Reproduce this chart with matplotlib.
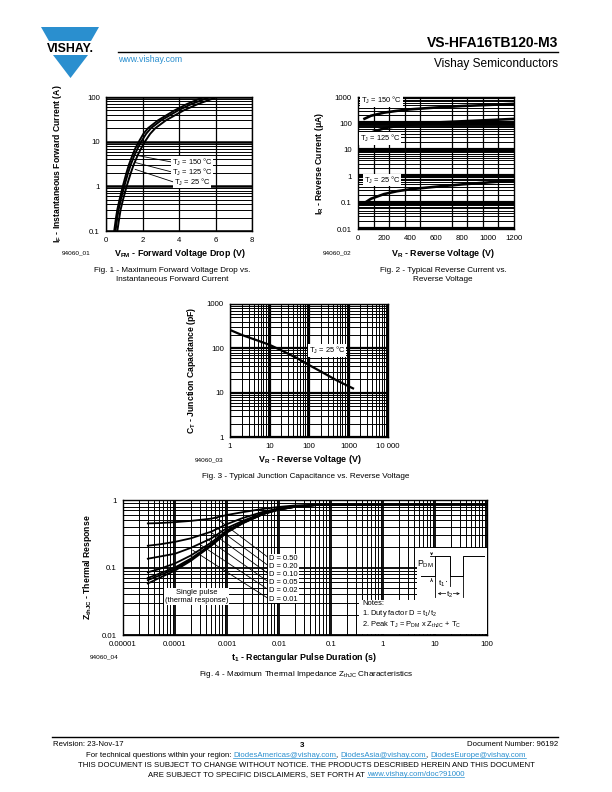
import numpy as np
import matplotlib
matplotlib.use('Agg')
import matplotlib.pyplot as plt
from matplotlib.patches import Polygon, Rectangle
from matplotlib.ticker import LogLocator, NullFormatter, MultipleLocator

plt.rcParams.update({
    'font.family': ['Liberation Sans', 'DejaVu Sans'],
    'mathtext.default': 'regular',
    'axes.linewidth': 1.0,
    'axes.edgecolor': 'black',
})

W, H = 612, 792
BLUE = '#2a8fcf'

# ---------------- Fig. 1 : IF vs VFM ----------------
f1_if = [0.1, 0.2, 0.3, 0.5, 1, 2, 3, 5, 7, 10, 15, 20, 30, 50, 70, 100]
f1_vf_a = [0.45, 0.55, 0.62, 0.74, 0.92, 1.12, 1.25, 1.45, 1.60, 1.80, 2.05, 2.30, 2.85, 3.75, 4.45, 5.35]
f1_vf_b = [0.52, 0.62, 0.69, 0.81, 1.00, 1.21, 1.35, 1.56, 1.73, 1.93, 2.20, 2.46, 3.02, 3.95, 4.70, 5.70]
f1_vf_c = [0.62, 0.73, 0.80, 0.93, 1.13, 1.36, 1.51, 1.74, 1.92, 2.13, 2.42, 2.70, 3.28, 4.25, 5.05, 6.10]
f1_xticks = [0, 2, 4, 6, 8]
f1_yticks = [0.1, 1, 10, 100]
f1_yticklabels = ['0.1', '1', '10', '100']
f1_labels = ['T$_J$ = 150 °C', 'T$_J$ = 125 °C', 'T$_J$ = 25 °C']

# ---------------- Fig. 2 : IR vs VR ----------------
f2_vr_150 = [50, 100, 200, 300, 400, 600, 800, 1000, 1200]
f2_ir_150 = [150, 195, 255, 300, 340, 400, 455, 500, 550]
f2_vr_125 = [40, 100, 200, 300, 400, 600, 800, 1000, 1200]
f2_ir_125 = [30, 45, 65, 80, 90, 108, 120, 133, 148]
f2_vr_25 = [40, 100, 200, 300, 400, 600, 800, 1000, 1200]
f2_ir_25 = [0.09, 0.14, 0.21, 0.27, 0.32, 0.40, 0.49, 0.58, 0.68]
f2_xticks = [0, 200, 400, 600, 800, 1000, 1200]
f2_yticks = [0.01, 0.1, 1, 10, 100, 1000]
f2_yticklabels = ['0.01', '0.1', '1', '10', '100', '1000']
f2_labels = ['T$_J$ = 150 °C', 'T$_J$ = 125 °C', 'T$_J$ = 25 °C']

# ---------------- Fig. 3 : CT vs VR ----------------
f3_vr = [1, 2, 5, 10, 20, 50, 100, 200, 500, 1000, 1300]
f3_ct = [260, 200, 150, 120, 90, 60, 42, 30, 19, 14, 12.5]
f3_xticks = [1, 10, 100, 1000, 10000]
f3_xticklabels = ['1', '10', '100', '1000', '10 000']
f3_yticks = [1, 10, 100, 1000]
f3_yticklabels = ['1', '10', '100', '1000']

# ---------------- Fig. 4 : ZthJC vs t1 ----------------
f4_t = [3e-5, 5e-5, 1e-4, 2e-4, 5e-4, 1e-3, 2e-3, 5e-3, 1e-2, 2e-2, 5e-2, 1e-1, 1, 10, 100]
f4_z = {
    'D = 0.50': [0.45, 0.455, 0.47, 0.49, 0.53, 0.60, 0.66, 0.74, 0.79, 0.83, 0.85, 0.855, 0.86, 0.86, 0.86],
    'D = 0.20': [0.21, 0.22, 0.24, 0.27, 0.34, 0.44, 0.54, 0.67, 0.75, 0.81, 0.845, 0.85, 0.86, 0.86, 0.86],
    'D = 0.10': [0.135, 0.145, 0.16, 0.195, 0.27, 0.385, 0.49, 0.645, 0.735, 0.80, 0.84, 0.85, 0.86, 0.86, 0.86],
    'D = 0.05': [0.085, 0.095, 0.115, 0.15, 0.235, 0.355, 0.47, 0.63, 0.73, 0.795, 0.84, 0.85, 0.86, 0.86, 0.86],
    'D = 0.02': [0.07, 0.081, 0.10, 0.135, 0.22, 0.34, 0.46, 0.625, 0.725, 0.79, 0.84, 0.85, 0.86, 0.86, 0.86],
    'D = 0.01': [0.065, 0.076, 0.095, 0.13, 0.215, 0.335, 0.455, 0.62, 0.72, 0.79, 0.84, 0.85, 0.86, 0.86, 0.86],
}
f4_single = [0.058, 0.07, 0.09, 0.125, 0.21, 0.33, 0.45, 0.62, 0.72, 0.79, 0.84, 0.85, 0.86, 0.86, 0.86]
f4_xticks = [1e-5, 1e-4, 1e-3, 1e-2, 1e-1, 1, 10, 100]
f4_xticklabels = ['0.00001', '0.0001', '0.001', '0.01', '0.1', '1', '10', '100']
f4_yticks = [0.01, 0.1, 1]
f4_yticklabels = ['0.01', '0.1', '1']


def chart_axes(fig, left, top, right, bottom):
    return fig.add_axes([left / W, 1 - bottom / H, (right - left) / W, (bottom - top) / H])


def log_grid(ax, axis, major_lw, minor_lw):
    target = ax.yaxis if axis == 'y' else ax.xaxis
    target.set_minor_locator(LogLocator(base=10, subs=np.arange(2, 10), numticks=60))
    target.set_minor_formatter(NullFormatter())
    ax.grid(True, which='minor', axis=axis, color='black', lw=minor_lw)
    ax.grid(True, which='major', axis=axis, color='black', lw=major_lw)


def base_style(ax):
    ax.tick_params(which='both', length=0, labelsize=5.6, pad=4.5)
    for s in ax.spines.values():
        s.set_linewidth(1.0)


def boxed(ax, x, y, s, **kw):
    ax.text(x, y, s, fontsize=5.4, va='center', zorder=6,
            bbox=dict(fc='white', ec='none', pad=0.6), **kw)


fig = plt.figure(figsize=(W / 100, H / 100), dpi=100)
page = fig.add_axes([0, 0, 1, 1])
page.set_xlim(0, W)
page.set_ylim(H, 0)
page.axis('off')

# ---------- header ----------
page.add_patch(Polygon([(41, 27), (99, 27), (91, 41), (49, 41)], closed=True, fc=BLUE, ec='none'))
page.add_patch(Polygon([(53, 55), (88, 55), (70.5, 78)], closed=True, fc=BLUE, ec='none'))
page.text(70, 48.5, 'VISHAY.', fontsize=8.8, fontweight='bold', ha='center', va='center')
page.plot([118, 558], [52, 52], color='black', lw=1.0)
page.text(558, 47, 'VS-HFA16TB120-M3', fontsize=10, fontweight='bold', ha='right', va='baseline')
page.text(118, 62, 'www.vishay.com', fontsize=6.3, color=BLUE, ha='left', va='baseline')
page.text(558, 67, 'Vishay Semiconductors', fontsize=8.6, ha='right', va='baseline')

# ---------- Fig. 1 ----------
ax1 = chart_axes(fig, 106, 97, 252, 231)
ax1.set_yscale('log')
ax1.set_xlim(0, 8)
ax1.set_ylim(0.1, 100)
ax1.set_xticks(f1_xticks, labels=[str(v) for v in f1_xticks])
ax1.set_yticks(f1_yticks, labels=f1_yticklabels)
log_grid(ax1, 'y', 1.8, 0.7)
ax1.grid(True, which='major', axis='x', color='black', lw=0.9)
base_style(ax1)
for vf in (f1_vf_a, f1_vf_b, f1_vf_c):
    ax1.plot(vf, f1_if, color='black', lw=1.4, zorder=3)
f1_starts = [(1.62, 5.0), (1.62, 3.4), (1.6, 2.4)]
f1_ends = [(3.6, 3.5), (3.6, 2.1), (3.7, 1.25)]
for (x0, y0), (x1, y1), lab in zip(f1_starts, f1_ends, f1_labels):
    ax1.plot([x0, x1], [y0, y1], color='black', lw=0.6, zorder=4)
    boxed(ax1, x1, y1, lab)

page.text(58, 164, 'I$_F$ - Instantaneous Forward Current (A)', rotation=90, fontsize=6.2,
          fontweight='bold', ha='center', va='center')
page.text(180, 253, 'V$_{FM}$ - Forward Voltage Drop (V)', fontsize=6.4, fontweight='bold',
          ha='center', va='center')
page.text(62, 253, '94060_01', fontsize=4.6, ha='left', va='center')
page.text(172, 270, 'Fig. 1 - Maximum Forward Voltage Drop vs.', fontsize=5.9, ha='center', va='center')
page.text(172, 279.5, 'Instantaneous Forward Current', fontsize=5.9, ha='center', va='center')

# ---------- Fig. 2 ----------
ax2 = chart_axes(fig, 358, 97, 514, 229)
ax2.set_yscale('log')
ax2.set_xlim(0, 1200)
ax2.set_ylim(0.01, 1000)
ax2.set_xticks(f2_xticks, labels=[str(v) for v in f2_xticks])
ax2.set_yticks(f2_yticks, labels=f2_yticklabels)
log_grid(ax2, 'y', 3.0, 0.7)
ax2.xaxis.set_minor_locator(MultipleLocator(120))
ax2.grid(True, which='minor', axis='x', color='black', lw=0.9)
base_style(ax2)
ax2.plot(f2_vr_150, f2_ir_150, color='black', lw=1.9, zorder=3)
ax2.plot(f2_vr_125, f2_ir_125, color='black', lw=1.9, zorder=3)
ax2.plot(f2_vr_25, f2_ir_25, color='black', lw=1.9, zorder=3)
boxed(ax2, 25, 720, f2_labels[0])
boxed(ax2, 12, 26, f2_labels[1])
boxed(ax2, 45, 0.72, f2_labels[2])

page.text(319, 163, 'I$_R$ - Reverse Current (μA)', rotation=90, fontsize=6.2,
          fontweight='bold', ha='center', va='center')
page.text(443, 253, 'V$_R$ - Reverse Voltage (V)', fontsize=6.4, fontweight='bold',
          ha='center', va='center')
page.text(323, 253, '94060_02', fontsize=4.6, ha='left', va='center')
page.text(443, 270, 'Fig. 2 - Typical Reverse Current vs.', fontsize=5.9, ha='center', va='center')
page.text(443, 279.5, 'Reverse Voltage', fontsize=5.9, ha='center', va='center')

# ---------- Fig. 3 ----------
ax3 = chart_axes(fig, 230, 304, 388, 437)
ax3.set_xscale('log')
ax3.set_yscale('log')
ax3.set_xlim(1, 10000)
ax3.set_ylim(1, 1000)
ax3.set_xticks(f3_xticks, labels=f3_xticklabels)
ax3.set_yticks(f3_yticks, labels=f3_yticklabels)
log_grid(ax3, 'x', 1.6, 0.7)
log_grid(ax3, 'y', 1.6, 0.7)
base_style(ax3)
ax3.plot(f3_vr, f3_ct, color='black', lw=1.6, zorder=3)
boxed(ax3, 100, 88, 'T$_J$ = 25 °C')

page.text(192, 370, 'C$_T$ - Junction Capacitance (pF)', rotation=90, fontsize=6.2,
          fontweight='bold', ha='center', va='center')
page.text(310, 460, 'V$_R$ - Reverse Voltage (V)', fontsize=6.4, fontweight='bold',
          ha='center', va='center')
page.text(195, 460, '94060_03', fontsize=4.6, ha='left', va='center')
page.text(306, 476, 'Fig. 3 - Typical Junction Capacitance vs. Reverse Voltage', fontsize=5.9,
          ha='center', va='center')

# ---------- Fig. 4 ----------
ax4 = chart_axes(fig, 123, 500, 487, 635)
ax4.set_xscale('log')
ax4.set_yscale('log')
ax4.set_xlim(1e-5, 100)
ax4.set_ylim(0.01, 1)
ax4.set_xticks(f4_xticks, labels=f4_xticklabels)
ax4.set_yticks(f4_yticks, labels=f4_yticklabels)
log_grid(ax4, 'x', 1.3, 0.7)
log_grid(ax4, 'y', 1.3, 0.7)
base_style(ax4)
for lab, z in f4_z.items():
    ax4.plot(f4_t, z, color='black', lw=1.3, zorder=3)
ax4.plot(f4_t, f4_single, color='black', lw=1.3, zorder=3)

f4_label_y = [0.137, 0.104, 0.079, 0.06, 0.046, 0.034]
f4_starts = [(6e-4, 0.55), (6e-4, 0.40), (5e-4, 0.33), (4e-4, 0.27), (3e-4, 0.22), (2.2e-4, 0.18)]
for lab, ly, (sx, sy) in zip(f4_z.keys(), f4_label_y, f4_starts):
    ax4.plot([sx, 0.0065], [sy, ly], color='black', lw=0.6, zorder=4)
    boxed(ax4, 0.0065, ly, lab)

ax4.plot([8e-5, 8e-5], [0.05, 0.08], color='black', lw=0.6, zorder=4)
ax4.text(2.6e-4, 0.037, 'Single pulse\n(thermal response)', fontsize=5.4, ha='center', va='center',
         linespacing=1.15, zorder=6, bbox=dict(fc='white', ec='none', pad=0.8))

# pulse sketch and notes
ax4.add_patch(Rectangle((4.5, 0.033), 95.5, 0.16, fc='white', ec='none', zorder=5))
ax4.add_patch(Rectangle((0.35, 0.0103), 99.65, 0.0227, fc='white', ec='none', zorder=5))
ax4.plot([5.3, 10, 10, 19.4, 19.4, 34, 34, 88], [0.075, 0.075, 0.15, 0.15, 0.075, 0.075, 0.15, 0.15],
         color='black', lw=0.7, zorder=6)
ax4.plot([10, 10], [0.075, 0.036], color='black', lw=0.6, zorder=6)
ax4.plot([19.4, 19.4], [0.075, 0.053], color='black', lw=0.6, zorder=6)
ax4.plot([34, 34], [0.075, 0.036], color='black', lw=0.6, zorder=6)
ax4.annotate('', xy=(8.6, 0.15), xytext=(8.6, 0.18), zorder=6,
             arrowprops=dict(arrowstyle='->', lw=0.5, mutation_scale=4))
ax4.annotate('', xy=(8.6, 0.075), xytext=(8.6, 0.062), zorder=6,
             arrowprops=dict(arrowstyle='->', lw=0.5, mutation_scale=4))
ax4.plot([8.0, 10], [0.15, 0.15], color='black', lw=0.6, zorder=6)
ax4.text(9.4, 0.11, 'P$_{DM}$', fontsize=6.2, ha='right', va='center', zorder=7)
ax4.annotate('', xy=(10, 0.062), xytext=(19.4, 0.062), zorder=6,
             arrowprops=dict(arrowstyle='<->', lw=0.5, mutation_scale=4))
ax4.text(13.5, 0.058, 't$_1$', fontsize=6.0, ha='center', va='center', zorder=7,
         bbox=dict(fc='white', ec='none', pad=0.2))
ax4.annotate('', xy=(10, 0.041), xytext=(34, 0.041), zorder=6,
             arrowprops=dict(arrowstyle='<->', lw=0.5, mutation_scale=4))
ax4.text(19, 0.039, 't$_2$', fontsize=6.0, ha='center', va='center', zorder=7,
         bbox=dict(fc='white', ec='none', pad=0.2))
ax4.text(0.4, 0.0295, 'Notes:', fontsize=5.4, ha='left', va='center', zorder=7)
ax4.text(0.4, 0.0205, '1. Duty factor D = t$_1$/t$_2$', fontsize=5.4, ha='left', va='center', zorder=7)
ax4.text(0.4, 0.0143, '2. Peak T$_J$ = P$_{DM}$ x Z$_{thJC}$ + T$_C$', fontsize=5.4, ha='left',
         va='center', zorder=7)

page.text(88, 567, 'Z$_{thJC}$ - Thermal Response', rotation=90, fontsize=6.2,
          fontweight='bold', ha='center', va='center')
page.text(304, 657, 't$_1$ - Rectangular Pulse Duration (s)', fontsize=6.4, fontweight='bold',
          ha='center', va='center')
page.text(90, 657, '94060_04', fontsize=4.6, ha='left', va='center')
page.text(306, 674, 'Fig. 4 - Maximum Thermal Impedance Z$_{thJC}$ Characteristics', fontsize=5.9,
          ha='center', va='center')

# ---------- footer ----------
page.plot([52, 558], [737, 737], color='black', lw=1.0)
page.text(53, 746, 'Revision: 23-Nov-17', fontsize=5.6, ha='left', va='baseline')
page.text(302, 747, '3', fontsize=5.8, fontweight='bold', ha='center', va='baseline')
page.text(558, 746, 'Document Number: 96192', fontsize=5.6, ha='right', va='baseline')

fig.canvas.draw()
renderer = fig.canvas.get_renderer()


def put_runs(runs, cx, y, fs):
    widths = []
    for s, col, ul in runs:
        t = page.text(0, 0, s, fontsize=fs)
        widths.append(t.get_window_extent(renderer).width)
        t.remove()
    x = cx - sum(widths) / 2
    for (s, col, ul), w in zip(runs, widths):
        page.text(x, y, s, fontsize=fs, color=col, ha='left', va='baseline')
        if ul:
            page.plot([x, x + w], [y + 1.3, y + 1.3], color=col, lw=0.5)
        x += w


put_runs([('For technical questions within your region: ', 'black', False),
          ('DiodesAmericas@vishay.com', BLUE, True), (', ', 'black', False),
          ('DiodesAsia@vishay.com', BLUE, True), (', ', 'black', False),
          ('DiodesEurope@vishay.com', BLUE, True)], 306, 757, 5.6)
put_runs([('THIS DOCUMENT IS SUBJECT TO CHANGE WITHOUT NOTICE. THE PRODUCTS DESCRIBED HEREIN AND THIS DOCUMENT',
           'black', False)], 306, 767, 5.6)
put_runs([('ARE SUBJECT TO SPECIFIC DISCLAIMERS, SET FORTH AT ', 'black', False),
          ('www.vishay.com/doc?91000', BLUE, True)], 306, 776, 5.6)

fig.savefig('out.png', dpi=100, facecolor='white')
